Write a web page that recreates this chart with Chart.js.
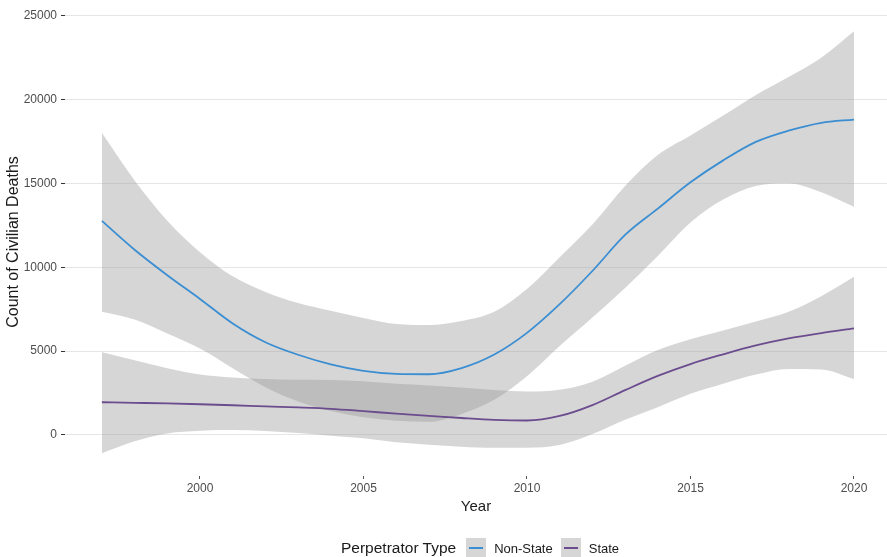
<!DOCTYPE html>
<html>
<head>
<meta charset="utf-8">
<script src="https://cdn.jsdelivr.net/npm/chart.js@4.4.1/dist/chart.umd.min.js"></script>
<style>
html,body{margin:0;padding:0;background:#fff;}
#wrap{position:relative;width:887px;height:557px;overflow:hidden;}
#c{position:absolute;left:0;top:0;}
#legend{position:absolute;left:341px;top:538px;height:20px;display:flex;align-items:center;font-family:"Liberation Sans",Arial,sans-serif;color:#1a1a1a;white-space:nowrap;}
#legend .ttl{font-size:15.5px;margin-right:10px;}
#legend .key{width:20px;height:20px;background:#d6d6d6;position:relative;margin-right:8px;}
#legend .key i{position:absolute;left:3px;right:3px;top:9px;height:2px;}
#legend .lab{font-size:13px;color:#1a1a1a;margin-right:8px;}
</style>
</head>
<body>
<div id="wrap">
<canvas id="c" width="887" height="557"></canvas>
<div id="legend"></div>
</div>
<script>
const years = [1997,1998,1999,2000,2001,2002,2003,2004,2005,2006,2007,2008,2009,2010,2011,2012,2013,2014,2015,2016,2017,2018,2019,2020];
const nonStateFit   = [12770,11050,9530,8114,6650,5533,4783,4210,3820,3640,3620,3990,4800,6090,7800,9780,11930,13500,15070,16380,17480,18150,18620,18816];
const nonStateUpper = [18020,15180,12780,10900,9460,8530,7870,7410,6980,6620,6560,6800,7350,8700,10600,12550,14850,16700,17870,19050,20280,21350,22500,24078];
const nonStateLower = [7350,6880,6050,5150,3980,2850,2000,1430,1050,850,780,1250,2100,3500,5300,7000,8770,10680,12680,14040,14850,15000,14480,13607];
const stateFit      = [1949,1915,1880,1830,1770,1700,1640,1560,1420,1270,1140,1010,900,860,1130,1780,2670,3520,4230,4810,5340,5760,6080,6359];
const stateUpper    = [4929,4450,3980,3600,3420,3330,3290,3280,3200,3050,2950,2830,2680,2590,2690,3170,4120,5060,5710,6230,6760,7350,8280,9435];
const stateLower    = [-1091,-380,90,250,290,230,110,-50,-200,-430,-580,-700,-770,-760,-600,50,900,1650,2450,3050,3600,3930,3900,3338];
const xTicks = [2000,2005,2010,2015,2020];
const yTicks = [0,5000,10000,15000,20000,25000];
const seriesNames = ['Non-State','State'];
const legendTitle = 'Perpetrator Type';
const xTitle = 'Year';
const yTitle = 'Count of Civilian Deaths';

const colors = {nonState:'#3b8ed2', state:'#6b4c8e', band:'rgba(153,153,153,0.4)'};
const FONT = '"Liberation Sans", Arial, sans-serif';
const pts = arr => years.map((x,i)=>({x:x, y:arr[i]}));

const lineDs = (label, arr, col) => ({
  label, data: pts(arr), borderColor: col, borderWidth: 1.8, pointRadius: 0,
  fill: false, cubicInterpolationMode: 'monotone'
});
const bandDs = (label, arr, fill) => ({
  label, data: pts(arr), borderWidth: 0, borderColor: 'rgba(0,0,0,0)', pointRadius: 0,
  backgroundColor: colors.band, fill: fill, cubicInterpolationMode: 'monotone'
});

new Chart(document.getElementById('c'), {
  type: 'line',
  data: {
    datasets: [
      lineDs(seriesNames[0], nonStateFit, colors.nonState),
      lineDs(seriesNames[1], stateFit, colors.state),
      bandDs(seriesNames[0]+' upper', nonStateUpper, '+1'),
      bandDs(seriesNames[0]+' lower', nonStateLower, false),
      bandDs(seriesNames[1]+' upper', stateUpper, '+1'),
      bandDs(seriesNames[1]+' lower', stateLower, false)
    ]
  },
  options: {
    responsive: false,
    animation: false,
    events: [],
    layout: {padding: {top: 8, right: 0, bottom: 41, left: 0}},
    plugins: {legend: {display: false}, tooltip: {enabled: false}},
    scales: {
      x: {
        type: 'linear', min: 1995.872, max: 2021.01,
        afterBuildTicks: s => { s.ticks = xTicks.map(v => ({value: v})); },
        afterFit: s => { s.height = 40; s.paddingLeft = 0; s.paddingRight = 0; },
        grid: {display: true, drawOnChartArea: false, drawTicks: true, tickLength: 3, tickColor: '#555', lineWidth: 1},
        border: {display: false},
        ticks: {autoSkip: false, maxRotation: 0, padding: 2, color: '#4d4d4d',
          font: {family: FONT, size: 12},
          callback: v => String(v)},
        title: {display: true, text: xTitle, color: '#1a1a1a', padding: {top: 0, bottom: 0},
          font: {family: FONT, size: 15}}
      },
      y: {
        type: 'linear', min: -2450, max: 25470,
        afterBuildTicks: s => { s.ticks = yTicks.map(v => ({value: v})); },
        afterFit: s => { s.width = 65; s.paddingTop = 0; s.paddingBottom = 0; },
        grid: {color: '#e6e6e6', lineWidth: 1, drawTicks: true, tickLength: 4, tickColor: '#333'},
        border: {display: false},
        ticks: {padding: 4, color: '#4d4d4d',
          font: {family: FONT, size: 12},
          callback: v => String(v)},
        title: {display: true, text: yTitle, color: '#1a1a1a', padding: {top: 4, bottom: 0},
          font: {family: FONT, size: 16}}
      }
    }
  }
});

const lg = document.getElementById('legend');
const t = document.createElement('span'); t.className = 'ttl'; t.textContent = legendTitle; lg.appendChild(t);
[[seriesNames[0], colors.nonState],[seriesNames[1], colors.state]].forEach(([name,col]) => {
  const k = document.createElement('span'); k.className = 'key';
  const i = document.createElement('i'); i.style.background = col; k.appendChild(i); lg.appendChild(k);
  const l = document.createElement('span'); l.className = 'lab'; l.textContent = name; lg.appendChild(l);
});
</script>
</body>
</html>
